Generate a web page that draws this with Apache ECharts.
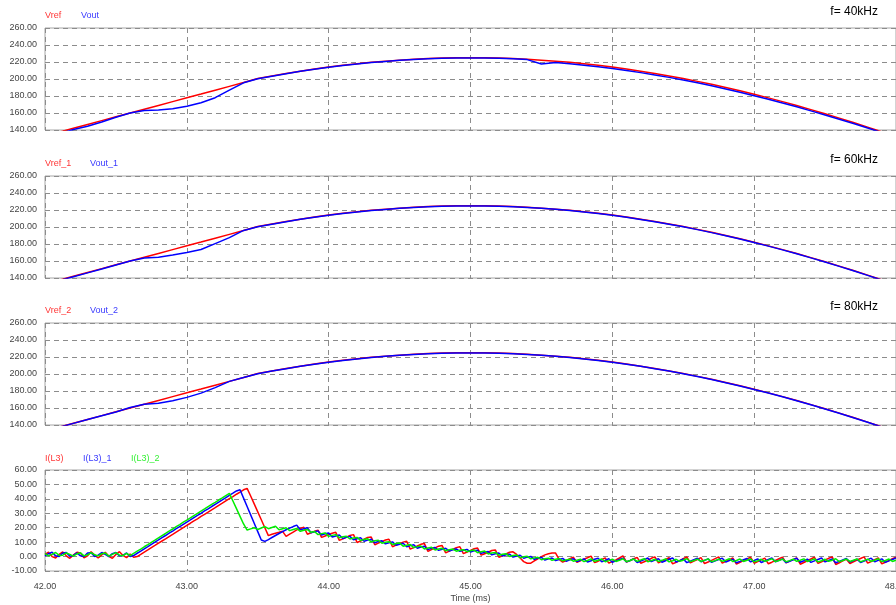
<!DOCTYPE html>
<html><head><meta charset="utf-8">
<script src="https://cdn.jsdelivr.net/npm/echarts@6/dist/echarts.min.js"></script>
<style>html,body{margin:0;padding:0;background:#fff}#c{width:896px;height:605px}</style>
</head><body><div id="c"></div>
<script>
// ---- voltage panels: sample times (ms) ----
const vTime = [42.0,42.1,42.2,42.3,42.4,42.5,42.6,42.7,42.8,42.9,
  43.0,43.1,43.2,43.3,43.4,43.5,43.6,43.7,43.8,43.9,
  44.0,44.1,44.2,44.3,44.4,44.5,44.6,44.7,44.8,44.9,
  45.0,45.1,45.2,45.3,45.4,45.5,45.6,45.7,45.8,45.9,
  46.0,46.1,46.2,46.3,46.4,46.5,46.6,46.7,46.8,46.9,
  47.0,47.1,47.2,47.3,47.4,47.5,47.6,47.7,47.8,47.9,48.0];
const vref = [133.1,137.5,142.0,146.5,151.0,155.5,159.9,164.4,168.9,173.4,
  177.9,182.3,186.8,191.3,195.8,200.5,203.6,206.5,209.2,211.7,
  214.0,216.1,217.9,219.6,221.0,222.2,223.2,224.0,224.6,224.9,
  225.0,224.9,224.6,224.0,223.2,222.2,221.0,219.6,217.9,216.1,
  214.0,211.7,209.2,206.5,203.6,200.5,197.2,193.7,190.0,186.1,
  182.0,177.8,173.4,168.8,164.0,159.1,154.0,148.8,143.4,137.9,132.3];
const vout = [131.0,135.5,140.5,144.5,149.5,155.0,160.0,163.0,163.5,165.0,
  168.0,172.0,178.0,187.0,195.5,200.3,203.3,206.2,209.0,211.4,
  213.7,215.8,217.6,219.3,220.7,222.0,223.0,223.8,224.4,224.7,
  224.8,224.7,224.4,223.8,222.8,217.6,219.3,217.8,216.2,214.3,
  212.3,210.0,207.5,204.8,201.9,198.8,195.5,192.0,188.3,184.4,
  180.3,176.1,171.8,167.3,162.5,157.7,152.7,147.6,142.3,137.0,131.5];
const vout1 = [132.5,137.0,141.5,146.0,150.5,155.3,160.0,163.5,164.5,167.0,
  170.0,173.5,180.5,187.5,196.0,200.4,203.3,206.2,209.0,211.4,
  213.7,215.8,217.6,219.3,220.7,222.0,223.0,223.8,224.4,224.7,
  224.8,224.7,224.4,223.8,223.0,222.0,220.8,219.4,217.7,215.8,
  213.7,211.4,208.9,206.2,203.3,200.2,196.9,193.4,189.7,185.8,
  181.7,177.5,173.1,168.5,163.7,158.8,153.7,148.5,143.1,137.6,132.0];
const vout2 = [133.0,137.4,141.9,146.4,150.9,155.3,160.5,164.5,165.5,168.5,
  172.5,177.5,184.0,191.3,195.8,200.4,203.4,206.3,209.0,211.5,
  213.8,215.9,217.7,219.4,220.8,222.0,223.0,223.8,224.4,224.7,
  224.8,224.7,224.4,223.8,223.0,222.0,220.8,219.4,217.7,215.9,
  213.8,211.5,209.0,206.3,203.4,200.3,197.0,193.5,189.8,185.9,
  181.8,177.6,173.2,168.6,163.8,158.9,153.8,148.6,143.2,137.7,132.1];

// ---- inductor currents: sampled from 42.000 ms every 0.025 ms ----
const iStart = 42.0, iStep = 0.025;
const iL3 = [1.5,3.0,0.0,-1.0,1.5,3.2,0.5,-1.2,1.0,3.0,
  2.5,-0.8,0.5,3.3,1.0,-1.0,1.2,3.0,0.2,-1.2,
  1.5,3.4,0.8,-0.8,1.8,-0.5,0.0,1.5,3.1,4.6,
  6.2,7.7,9.3,10.8,12.3,13.9,15.4,17.0,18.5,20.0,
  21.6,23.1,24.7,26.2,27.8,29.3,30.8,32.4,33.9,35.5,
  37.0,38.6,40.1,41.6,43.2,44.7,46.3,47.3,42.0,36.5,
  31.0,25.5,20.0,14.5,15.5,16.2,16.8,17.5,14.0,15.5,
  17.0,18.5,19.5,20.3,15.5,16.5,17.5,18.3,13.3,14.3,
  15.3,16.2,16.8,11.2,12.3,13.5,14.6,15.2,9.8,10.8,
  12.0,13.2,13.6,8.2,9.3,10.4,11.5,12.0,6.8,8.0,
  9.0,10.0,10.6,5.2,6.2,7.3,8.5,9.0,3.6,4.8,
  6.0,7.2,7.6,2.6,3.8,5.0,6.2,6.8,2.0,3.2,
  4.3,5.4,5.9,1.0,2.0,3.0,4.2,4.6,-0.5,0.6,
  1.8,3.0,3.3,1.5,-1.0,-3.5,-4.6,-4.6,-3.0,-1.5,
  0.0,1.2,2.0,2.4,2.4,-2.0,-3.8,-2.8,-1.5,-0.5,
  -4.0,-3.0,-1.8,-0.8,0.3,-4.2,-3.2,-2.0,-1.0,-4.5,
  -3.5,-2.3,-1.0,0.5,-3.8,-2.8,-1.5,-0.6,-4.6,-3.6,
  -2.5,-1.2,-0.2,-4.4,-3.2,-2.0,-0.8,-5.0,-4.0,-2.8,
  -1.5,-0.3,-4.3,-3.1,-2.0,-0.7,-4.8,-3.8,-2.6,-1.4,
  -0.2,-4.5,-3.3,-2.2,-1.0,-5.2,-4.0,-2.8,-1.6,-0.5,
  -4.6,-3.5,-2.3,-1.1,-5.0,-3.9,-2.7,-1.5,-0.4,-4.4,
  -3.2,-2.1,-0.9,-5.3,-4.1,-2.9,-1.7,-0.5,-4.7,-3.6,
  -2.4,-1.2,-0.2,-5.5,-4.3,-3.0,-1.8,-4.8,-3.6,-2.4,
  -1.3,-0.2,-4.5,-3.4,-2.2,-1.0,-5.0,-3.9,-2.7,-1.5,
  -0.4];
const iL3_1 = [0.5,2.0,3.0,0.5,0.0,2.5,2.8,0.2,0.8,2.5,
  0.5,0.0,2.5,2.6,0.0,1.0,2.8,1.5,0.0,2.0,
  2.8,0.5,0.8,2.5,0.0,0.7,2.3,3.8,5.4,6.9,
  8.5,10.0,11.5,13.1,14.6,16.2,17.7,19.3,20.8,22.3,
  23.9,25.4,27.0,28.5,30.0,31.6,33.1,34.7,36.2,37.8,
  39.3,40.8,42.4,43.9,45.5,46.3,40.5,34.7,28.9,23.1,
  17.3,11.5,10.5,11.8,13.2,14.6,16.0,17.3,18.6,19.7,
  20.8,21.8,18.5,19.3,20.0,16.5,17.2,17.8,15.0,15.8,
  16.3,13.5,14.3,14.9,12.5,13.3,14.0,11.6,12.4,13.0,
  10.6,11.4,12.0,9.6,10.4,11.0,8.8,9.6,10.2,7.8,
  8.6,9.2,6.8,7.6,8.2,5.8,6.6,7.2,4.9,5.7,
  6.3,4.3,5.1,5.7,3.9,4.7,5.3,3.6,4.4,5.0,
  3.2,4.0,4.4,2.2,3.0,3.5,1.2,2.0,2.5,0.4,
  1.2,1.7,-0.4,0.4,0.9,-1.2,-0.4,0.1,-1.9,-1.1,
  -0.6,-2.4,-1.6,-1.0,-2.8,-2.0,-1.3,-3.2,-2.3,-1.5,
  -3.4,-2.5,-1.6,-3.8,-2.9,-1.9,-1.2,-3.6,-2.6,-1.5,
  -4.0,-3.0,-2.0,-1.1,-3.7,-2.7,-1.6,-4.1,-3.1,-2.1,
  -1.0,-3.5,-2.5,-1.5,-3.9,-2.9,-1.9,-1.0,-3.8,-2.8,
  -1.7,-4.2,-3.2,-2.1,-1.2,-3.6,-2.6,-1.6,-4.0,-3.0,
  -2.0,-1.1,-3.8,-2.8,-1.8,-4.3,-3.3,-2.2,-1.3,-3.7,
  -2.7,-1.6,-4.1,-3.1,-2.0,-1.0,-3.6,-2.6,-1.6,-4.2,
  -3.2,-2.2,-1.2,-3.9,-2.9,-1.8,-4.0,-3.0,-2.0,-1.0,
  -3.7,-2.7,-1.7,-4.3,-3.3,-2.3,-1.3,-3.8,-2.8,-1.8,
  -4.1,-3.1,-2.1,-1.1,-3.6,-2.6,-1.6,-4.0,-3.0,-2.0,
  -1.0];
const iL3_2 = [2.0,0.5,1.5,2.8,0.8,1.0,2.5,1.5,0.3,1.8,
  2.6,0.5,1.2,2.8,1.2,0.5,2.0,2.4,0.3,1.5,
  2.7,1.0,0.6,2.2,0.6,2.2,3.7,5.2,6.8,8.3,
  9.9,11.4,13.0,14.5,16.0,17.6,19.1,20.7,22.2,23.8,
  25.3,26.8,28.4,29.9,31.5,33.0,34.6,36.1,37.6,39.2,
  40.7,42.3,43.8,38.5,33.2,27.9,22.6,18.4,19.2,20.0,
  18.8,19.8,20.8,19.3,20.2,21.0,18.6,19.3,20.0,18.0,
  18.8,19.5,17.5,18.2,18.8,16.8,17.4,15.2,15.9,16.4,
  14.0,14.7,15.2,13.0,13.7,14.1,12.2,12.9,13.3,11.2,
  11.9,12.3,10.2,10.9,11.3,9.2,9.9,10.3,8.4,9.1,
  9.4,7.2,7.9,8.3,6.2,6.9,7.3,5.3,6.0,6.4,
  4.6,5.3,5.7,4.1,4.8,5.2,3.7,4.4,4.8,3.4,
  4.1,4.5,2.7,3.4,3.8,1.8,2.5,2.9,0.9,1.6,
  2.0,0.1,0.8,1.1,-0.8,-0.1,0.2,-1.6,-0.9,-0.5,
  -2.2,-1.5,-1.1,-2.6,-1.9,-1.4,-3.0,-2.3,-1.8,-3.2,
  -2.5,-1.8,-3.5,-2.7,-1.6,-3.3,-2.5,-1.7,-3.6,-2.8,
  -1.8,-3.4,-2.6,-1.5,-3.5,-2.7,-1.7,-3.3,-2.4,-1.4,
  -3.6,-2.8,-1.9,-3.4,-2.6,-1.6,-3.7,-2.9,-1.9,-3.3,
  -2.5,-1.5,-3.5,-2.7,-1.8,-3.4,-2.6,-1.6,-3.6,-2.8,
  -1.8,-3.3,-2.5,-1.5,-3.5,-2.7,-1.7,-3.4,-2.6,-1.7,
  -3.7,-2.9,-1.9,-3.3,-2.5,-1.5,-3.5,-2.7,-1.8,-3.6,
  -2.8,-1.8,-3.3,-2.5,-1.6,-3.4,-2.6,-1.6,-3.7,-2.9,
  -1.9,-3.3,-2.5,-1.5,-3.5,-2.7,-1.7,-3.4,-2.6,-1.7,
  -3.6,-2.8,-1.8,-3.3,-2.5,-1.5,-3.5,-2.7,-1.7,-3.4,
  -2.6];

const panelTitles = ['f= 40kHz', 'f= 60kHz', 'f= 80kHz', ''];
const panelNames = [['Vref','Vout'], ['Vref_1','Vout_1'], ['Vref_2','Vout_2'], ['I(L3)','I(L3)_1','I(L3)_2']];
const xRange = [42, 48, 1];
const vRange = [140, 260, 20];
const iRange = [-10, 60, 10];

const RED = '#ff0000', BLUE = '#0000ff', GREEN = '#00ee00';
const FONT = 'Liberation Sans, Arial, sans-serif';
const gridTops = [28, 176, 323, 470];
const gridH = [102, 102, 102, 101];

const pairs = (t, v) => v.map((y, i) => [t[i], y]);
const iTimes = iL3.map((_, i) => +(iStart + i * iStep).toFixed(3));

const grid = gridTops.map((t, k) => ({
  left: 45, right: 0, top: t, height: gridH[k], outerBoundsMode: 'none', containLabel: false,
  show: true, borderColor: '#a6a6a6', borderWidth: 1, backgroundColor: 'transparent'
}));
const dash = { type: [5, 4], color: '#8c8c8c', width: 1 };
const xAxis = gridTops.map((_, k) => ({
  type: 'value', gridIndex: k, min: xRange[0], max: xRange[1], interval: xRange[2],
  axisLine: { show: false }, axisTick: { show: false },
  axisLabel: { show: k === 3, formatter: v => v.toFixed(2), color: '#444', fontSize: 9, fontFamily: FONT, margin: 11,
    showMinLabel: true, showMaxLabel: true, hideOverlap: false },
  splitLine: { show: true, lineStyle: dash },
  name: k === 3 ? 'Time (ms)' : '', nameLocation: 'middle', nameGap: 23,
  nameTextStyle: { color: '#444', fontSize: 9, fontFamily: FONT }
}));
const yAxis = gridTops.map((_, k) => {
  const r = k === 3 ? iRange : vRange;
  return {
    type: 'value', gridIndex: k, min: r[0], max: r[1], interval: r[2],
    axisLine: { show: false }, axisTick: { show: false },
    axisLabel: { formatter: v => v.toFixed(2), color: '#444', fontSize: 9, fontFamily: FONT, margin: 8 },
    splitLine: { show: true, lineStyle: dash }
  };
});
const mk = (k, name, data, color) => ({
  type: 'line', name, xAxisIndex: k, yAxisIndex: k, data, showSymbol: false,
  lineStyle: { color, width: 1.5 }, itemStyle: { color }, z: 3, animation: false
});
const series = [
  mk(0, 'Vref', pairs(vTime, vref), RED), mk(0, 'Vout', pairs(vTime, vout), BLUE),
  mk(1, 'Vref_1', pairs(vTime, vref), RED), mk(1, 'Vout_1', pairs(vTime, vout1), BLUE),
  mk(2, 'Vref_2', pairs(vTime, vref), RED), mk(2, 'Vout_2', pairs(vTime, vout2), BLUE),
  mk(3, 'I(L3)', pairs(iTimes, iL3), RED), mk(3, 'I(L3)_1', pairs(iTimes, iL3_1), BLUE),
  mk(3, 'I(L3)_2', pairs(iTimes, iL3_2), GREEN)
];

const legendX = [[45, 81], [45, 90], [45, 90], [45, 83, 131]];
const legendY = [16, 164, 311, 459];
const colors = [RED, BLUE, GREEN];
const graphic = [];
panelNames.forEach((names, k) => {
  names.forEach((n, j) => graphic.push({
    type: 'text', x: legendX[k][j], y: legendY[k], silent: true,
    style: { text: n, fill: colors[j], font: '9px ' + FONT, align: 'left', verticalAlign: 'middle', opacity: 0.8 }
  }));
  if (panelTitles[k]) graphic.push({
    type: 'text', x: 878, y: legendY[k] - 4, silent: true,
    style: { text: panelTitles[k], fill: '#000', font: '12px ' + FONT, align: 'right', verticalAlign: 'middle' }
  });
});

const chart = echarts.init(document.getElementById('c'), null, { renderer: 'canvas' });
chart.setOption({ animation: false, backgroundColor: '#fff', grid, xAxis, yAxis, series, graphic });
</script></body></html>
